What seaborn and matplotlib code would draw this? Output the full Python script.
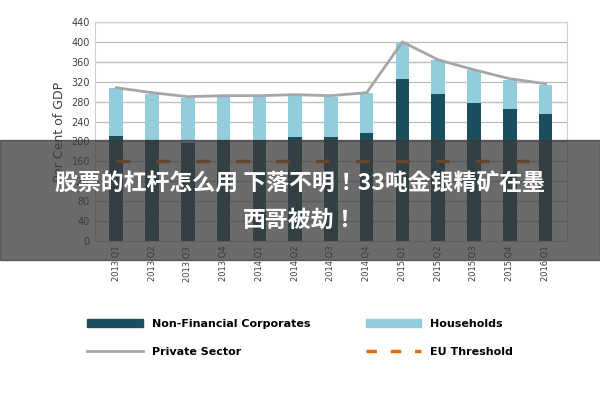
import matplotlib
matplotlib.use("Agg")
import matplotlib.pyplot as plt
import seaborn as sns
import pandas as pd
from matplotlib.lines import Line2D
from matplotlib.patches import Patch
from matplotlib import font_manager as fm

quarters = ["2013 Q1","2013 Q2","2013 Q3","2013 Q4","2014 Q1","2014 Q2","2014 Q3","2014 Q4",
            "2015 Q1","2015 Q2","2015 Q3","2015 Q4","2016 Q1"]
nfc = [210,202,196,202,202,209,209,217,326,296,278,266,256]
households = [98,94,92,88,88,83,81,81,74,68,66,58,58]
private = [308,298,290,292,292,294,292,298,400,364,344,326,316]
eu = [160]*13
yticks = list(range(0, 441, 40))

names = {f.name for f in fm.fontManager.ttflist}
cjk = next((n for n in ["Noto Sans CJK SC", "Noto Sans CJK JP", "Noto Sans CJK TC", "Noto Sans CJK KR"]
            if n in names), None)
if cjk is None:
    cjk = next((n for n in sorted(names) if "Sans CJK" in n), "DejaVu Sans")

fig = plt.figure(figsize=(6, 4), dpi=100)
ax = fig.add_axes([0.158, 0.3975, 0.787, 0.5475])
df = pd.DataFrame({"q": quarters, "nfc": nfc, "tot": [a + b for a, b in zip(nfc, households)]})
sns.barplot(data=df, x="q", y="tot", color="#93cddd", width=0.38, ax=ax, saturation=1)
sns.barplot(data=df, x="q", y="nfc", color="#1b4f5e", width=0.38, ax=ax, saturation=1)
x = list(range(len(quarters)))
ax.plot(x, private, color="#a6a6a6", lw=2)
ax.plot(x, eu, color="#e46c0a", lw=2.5, dashes=(4, 7.5))
ax.set_ylim(0, 440)
ax.set_xlim(-0.6, 12.6)
ax.set_yticks(yticks)
ax.tick_params(axis="y", labelsize=7, colors="#404040", length=0)
ax.tick_params(axis="x", labelsize=6, colors="#404040", length=0, rotation=90)
ax.grid(axis="y", color="#bfbfbf", lw=1)
ax.set_axisbelow(True)
for s in ax.spines.values():
    s.set_color("#d0d0d0")
ax.set_xlabel("")
ax.set_ylabel("Per Cent of GDP", fontsize=9, color="#404040")

handles = [Patch(color="#1b4f5e"), Line2D([], [], color="#a6a6a6", lw=2),
           Patch(color="#93cddd"), Line2D([], [], color="#e46c0a", lw=2.5, dashes=(3, 4))]
labels = ["Non-Financial Corporates", "Private Sector", "Households", "EU Threshold"]
fig.legend(handles, labels, ncol=2, loc="center", bbox_to_anchor=(0.5, 0.155), frameon=False,
           columnspacing=5, handlelength=5, labelspacing=1.6,
           prop={"weight": "bold", "size": 8})

fig.patches.append(matplotlib.patches.Rectangle((0, 0.35), 1, 0.3, transform=fig.transFigure,
                                                color="#3a3a3a", alpha=0.75, zorder=10))
fig.text(0.5, 0.54, "股票的杠杆怎么用 下落不明！33吨金银精矿在墨", ha="center", va="center",
         color="white", fontsize=16.5, weight="bold", family=cjk, zorder=11)
fig.text(0.5, 0.45, "西哥被劫！", ha="center", va="center",
         color="white", fontsize=16.5, weight="bold", family=cjk, zorder=11)
fig.savefig("out.png")
